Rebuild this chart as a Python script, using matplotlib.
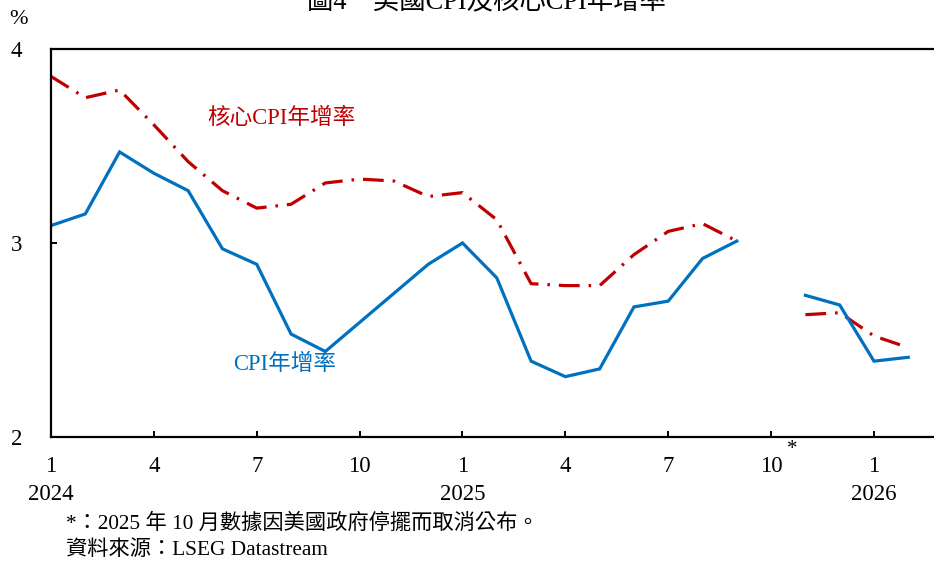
import numpy as np
import matplotlib
matplotlib.use("Agg")
import matplotlib.pyplot as plt

plt.rcParams['font.family'] = ['Liberation Serif', 'Noto Sans CJK TC']

# Monthly data, Jan 2024 .. Feb 2026 (Oct 2025 not published)
months = ['2024-01', '2024-02', '2024-03', '2024-04', '2024-05', '2024-06',
          '2024-07', '2024-08', '2024-09', '2024-10', '2024-11', '2024-12',
          '2025-01', '2025-02', '2025-03', '2025-04', '2025-05', '2025-06',
          '2025-07', '2025-08', '2025-09', '2025-10', '2025-11', '2025-12',
          '2026-01', '2026-02']
cpi = [3.09, 3.15, 3.47, 3.36, 3.27, 2.97, 2.89, 2.53, 2.44, 2.59, 2.74, 2.89,
       3.00, 2.82, 2.39, 2.31, 2.35, 2.67, 2.70, 2.92, 3.01, np.nan, 2.73, 2.68,
       2.39, 2.41]
core = [3.86, 3.75, 3.79, 3.61, 3.42, 3.27, 3.18, 3.20, 3.31, 3.33, 3.32, 3.24,
        3.26, 3.12, 2.79, 2.78, 2.78, 2.94, 3.06, 3.10, 3.01, np.nan, 2.63, 2.64,
        2.52, 2.46]
tick_pos = [0, 3, 6, 9, 12, 15, 18, 21, 24]
tick_labels = ['1\n2024', '4', '7', '10', '1\n2025', '4', '7', '10', '1\n2026']

W, H = 934, 563
fig = plt.figure(figsize=(W / 100, H / 100), dpi=100)
ax = fig.add_axes([51 / W, 1 - 436.7 / H, (934 - 51) / W, (436.7 - 49.3) / H])

x = np.arange(len(months))
blue = '#0070C0'
red = '#C00000'
ax.plot(x, core, color=red, lw=2.3, linestyle=(0, (6.5, 2.8, 0.8, 2.8)),
        dash_capstyle='butt')
ax.plot(x, cpi, color=blue, lw=2.3, solid_joinstyle='miter')

ax.set_xlim(0, 25.75)
ax.set_ylim(2, 4)
ax.set_yticks([2, 3, 4])
ax.set_yticklabels(['2', '3', '4'])
ax.set_xticks(tick_pos)
ax.set_xticklabels(tick_labels, linespacing=1.45)

for s in ['left', 'top', 'bottom']:
    ax.spines[s].set_linewidth(1.6)
    ax.spines[s].set_color('black')
ax.spines['right'].set_visible(False)

ax.tick_params(axis='x', direction='in', length=4.5, width=1.4, pad=14,
               labelsize=16.5, colors='black')
ax.tick_params(axis='y', direction='in', length=4.5, width=1.4, pad=25,
               labelsize=16.5, colors='black')
for lab in ax.get_yticklabels():
    lab.set_horizontalalignment('center')

# series labels
fig.text(281 / W, 1 - 118 / H, '核心CPI年增率', color=red, fontsize=16.3,
         ha='center', va='center')
fig.text(285 / W, 1 - 364 / H, 'CPI年增率', color=blue, fontsize=16.3,
         ha='center', va='center')

# asterisk for Oct 2025
fig.text(792 / W, 1 - 450 / H, '*', fontsize=15, ha='center', va='center')

# percent sign
fig.text(18 / W, 1 - 19 / H, '%', fontsize=16, ha='center', va='center')

# title (partly cut off at top, as in the source)
fig.text(486 / W, 1 - 9 / H, '圖4　美國CPI及核心CPI年增率', fontsize=19,
         ha='center', va='baseline')

# footnotes
fig.text(66 / W, 1 - 524 / H, '*：2025 年 10 月數據因美國政府停擺而取消公布。',
         fontsize=15.3, ha='left', va='center')
fig.text(66 / W, 1 - 550 / H, '資料來源：LSEG Datastream',
         fontsize=15.3, ha='left', va='center')

fig.savefig('out.png', dpi=100)
